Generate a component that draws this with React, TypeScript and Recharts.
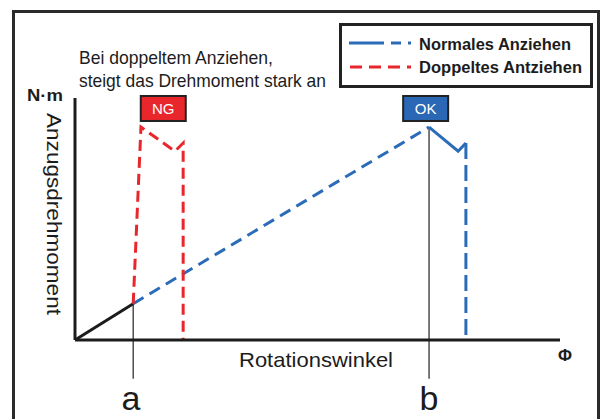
import React from 'react';
import {
  LineChart,
  Line,
  XAxis,
  YAxis,
  ReferenceLine,
  ReferenceDot,
  Legend,
  Customized,
} from 'recharts';

// Curve points (rotation angle %, torque %)
const baseX = [0, 12];
const baseY = [0, 15];

const normalRampX = [12, 73];
const normalRampY = [15, 88];

const normalPeakX = [73, 79, 80.6];
const normalPeakY = [88, 78, 81.4];

const normalDropX = [80.6, 80.6];
const normalDropY = [81.4, 0];

const doubleX = [12, 13.6, 20.6, 22.3, 22.3];
const doubleY = [15, 88, 78, 81.4, 0];

// marker positions: a = start of second tightening, b = normal peak
const markerX = [12, 73];
const markerTopY = [15, 88];
const markerLabels = ['a', 'b'];

const badges = [
  { x: 18.2, y: 90.5, text: 'NG', fill: '#e8262b' },
  { x: 72.3, y: 90.5, text: 'OK', fill: '#2a67b4' },
];

const legendItems = [
  { name: 'Normales Anziehen', color: '#2b6cb8' },
  { name: 'Doppeltes Antziehen', color: '#e8262b' },
];

const BLUE = '#2b6cb8';
const RED = '#e8262b';
const INK = '#1c1c1c';
const FONT = '"Liberation Sans", Arial, sans-serif';

const toPoints = (xs: number[], ys: number[]) => xs.map((x, i) => ({ x, y: ys[i] }));

function Badge(props: any) {
  const { cx, cy, text, fill } = props;
  return (
    <g>
      <rect x={cx - 22.5} y={cy - 25} width={45} height={25} fill={fill} stroke="#222" strokeWidth={2} />
      <text x={cx} y={cy - 7} textAnchor="middle" fontSize={15} fill="#fff" fontFamily={FONT}>
        {text}
      </text>
    </g>
  );
}

function LegendBox() {
  return (
    <svg width={255} height={66} style={{ display: 'block' }}>
      <rect x={1.5} y={1.5} width={251} height={62} fill="#fff" stroke="#222" strokeWidth={3} />
      <line x1={10} y1={20} x2={45} y2={20} stroke={legendItems[0].color} strokeWidth={3} />
      <line x1={52} y1={20} x2={62} y2={20} stroke={legendItems[0].color} strokeWidth={3} />
      <line x1={69} y1={20} x2={72} y2={20} stroke={legendItems[0].color} strokeWidth={3} />
      <line x1={11} y1={44} x2={72} y2={44} stroke={legendItems[1].color} strokeWidth={3} strokeDasharray="12 7" />
      <text x={80} y={27} fontSize={17} fontWeight="bold" fill={INK} fontFamily={FONT} textLength={152} lengthAdjust="spacingAndGlyphs">
        {legendItems[0].name}
      </text>
      <text x={80} y={50} fontSize={17} fontWeight="bold" fill={INK} fontFamily={FONT} textLength={163} lengthAdjust="spacingAndGlyphs">
        {legendItems[1].name}
      </text>
    </svg>
  );
}

function Texts() {
  return (
    <g fontFamily={FONT} fill={INK}>
      <text x={79} y={64} fontSize={19} textLength={194} lengthAdjust="spacingAndGlyphs">Bei doppeltem Anziehen,</text>
      <text x={79} y={87} fontSize={19} textLength={247} lengthAdjust="spacingAndGlyphs">steigt das Drehmoment stark an</text>
      <text x={27} y={101} fontSize={17} fontWeight="bold" textLength={36} lengthAdjust="spacingAndGlyphs">N·m</text>
      <text x={47} y={214} fontSize={21} textAnchor="middle" transform="rotate(90 47 214)" textLength={202} lengthAdjust="spacingAndGlyphs">
        Anzugsdrehmoment
      </text>
      <text x={316} y={367} fontSize={21} textAnchor="middle" textLength={154} lengthAdjust="spacingAndGlyphs">Rotationswinkel</text>
      <text x={565} y={361} fontSize={17} fontWeight="bold" textAnchor="middle">Φ</text>
      <text x={131} y={410} fontSize={34} textAnchor="middle">{markerLabels[0]}</text>
      <text x={429} y={410} fontSize={34} textAnchor="middle">{markerLabels[1]}</text>
    </g>
  );
}

export default function App() {
  return (
    <div style={{ position: 'absolute', left: 0, top: 0, width: 607, height: 419, overflow: 'hidden', background: '#fff' }}>
      <div
        style={{
          position: 'absolute',
          left: 12,
          top: 10,
          width: 588,
          height: 430,
          border: '3px solid #2a2a2a',
          boxSizing: 'border-box',
        }}
      />
      <div style={{ position: 'absolute', left: 0, top: 0 }}>
        <LineChart width={607} height={419} margin={{ top: 98, right: 47, left: 74, bottom: 78 }}>
          <XAxis
            type="number"
            dataKey="x"
            domain={[0, 100]}
            height={1}
            tick={false}
            tickLine={false}
            axisLine={{ stroke: INK, strokeWidth: 3 }}
          />
          <YAxis
            type="number"
            dataKey="y"
            domain={[0, 100]}
            width={1}
            tick={false}
            tickLine={false}
            axisLine={{ stroke: INK, strokeWidth: 3 }}
          />
          {markerX.map((mx, i) => (
            <ReferenceLine
              key={markerLabels[i]}
              segment={[{ x: mx, y: markerTopY[i] }, { x: mx, y: -16 }]}
              stroke="#333"
              strokeWidth={1.3}
              ifOverflow="visible"
            />
          ))}
          <Line data={toPoints(baseX, baseY)} dataKey="y" stroke={INK} strokeWidth={3} dot={false} isAnimationActive={false} legendType="none" />
          <Line data={toPoints(normalRampX, normalRampY)} dataKey="y" stroke={BLUE} strokeWidth={3} strokeDasharray="12 7" dot={false} isAnimationActive={false} name="Normales Anziehen" />
          <Line data={toPoints(normalPeakX, normalPeakY)} dataKey="y" stroke={BLUE} strokeWidth={3} dot={false} isAnimationActive={false} legendType="none" />
          <Line data={toPoints(normalDropX, normalDropY)} dataKey="y" stroke={BLUE} strokeWidth={3} strokeDasharray="16 6" dot={false} isAnimationActive={false} legendType="none" />
          <Line data={toPoints(doubleX, doubleY)} dataKey="y" stroke={RED} strokeWidth={3} strokeDasharray="11 6" dot={false} isAnimationActive={false} name="Doppeltes Antziehen" />
          {badges.map((b) => (
            <ReferenceDot key={b.text} x={b.x} y={b.y} r={0} shape={(p: any) => <Badge {...p} text={b.text} fill={b.fill} />} />
          ))}
          <Legend
            layout="horizontal"
            verticalAlign="middle"
            align="center"
            content={() => <LegendBox />}
            wrapperStyle={{ position: 'absolute', left: 339, top: 23, width: 255, height: 66 }}
          />
          <Customized component={<Texts />} />
        </LineChart>
      </div>
    </div>
  );
}
